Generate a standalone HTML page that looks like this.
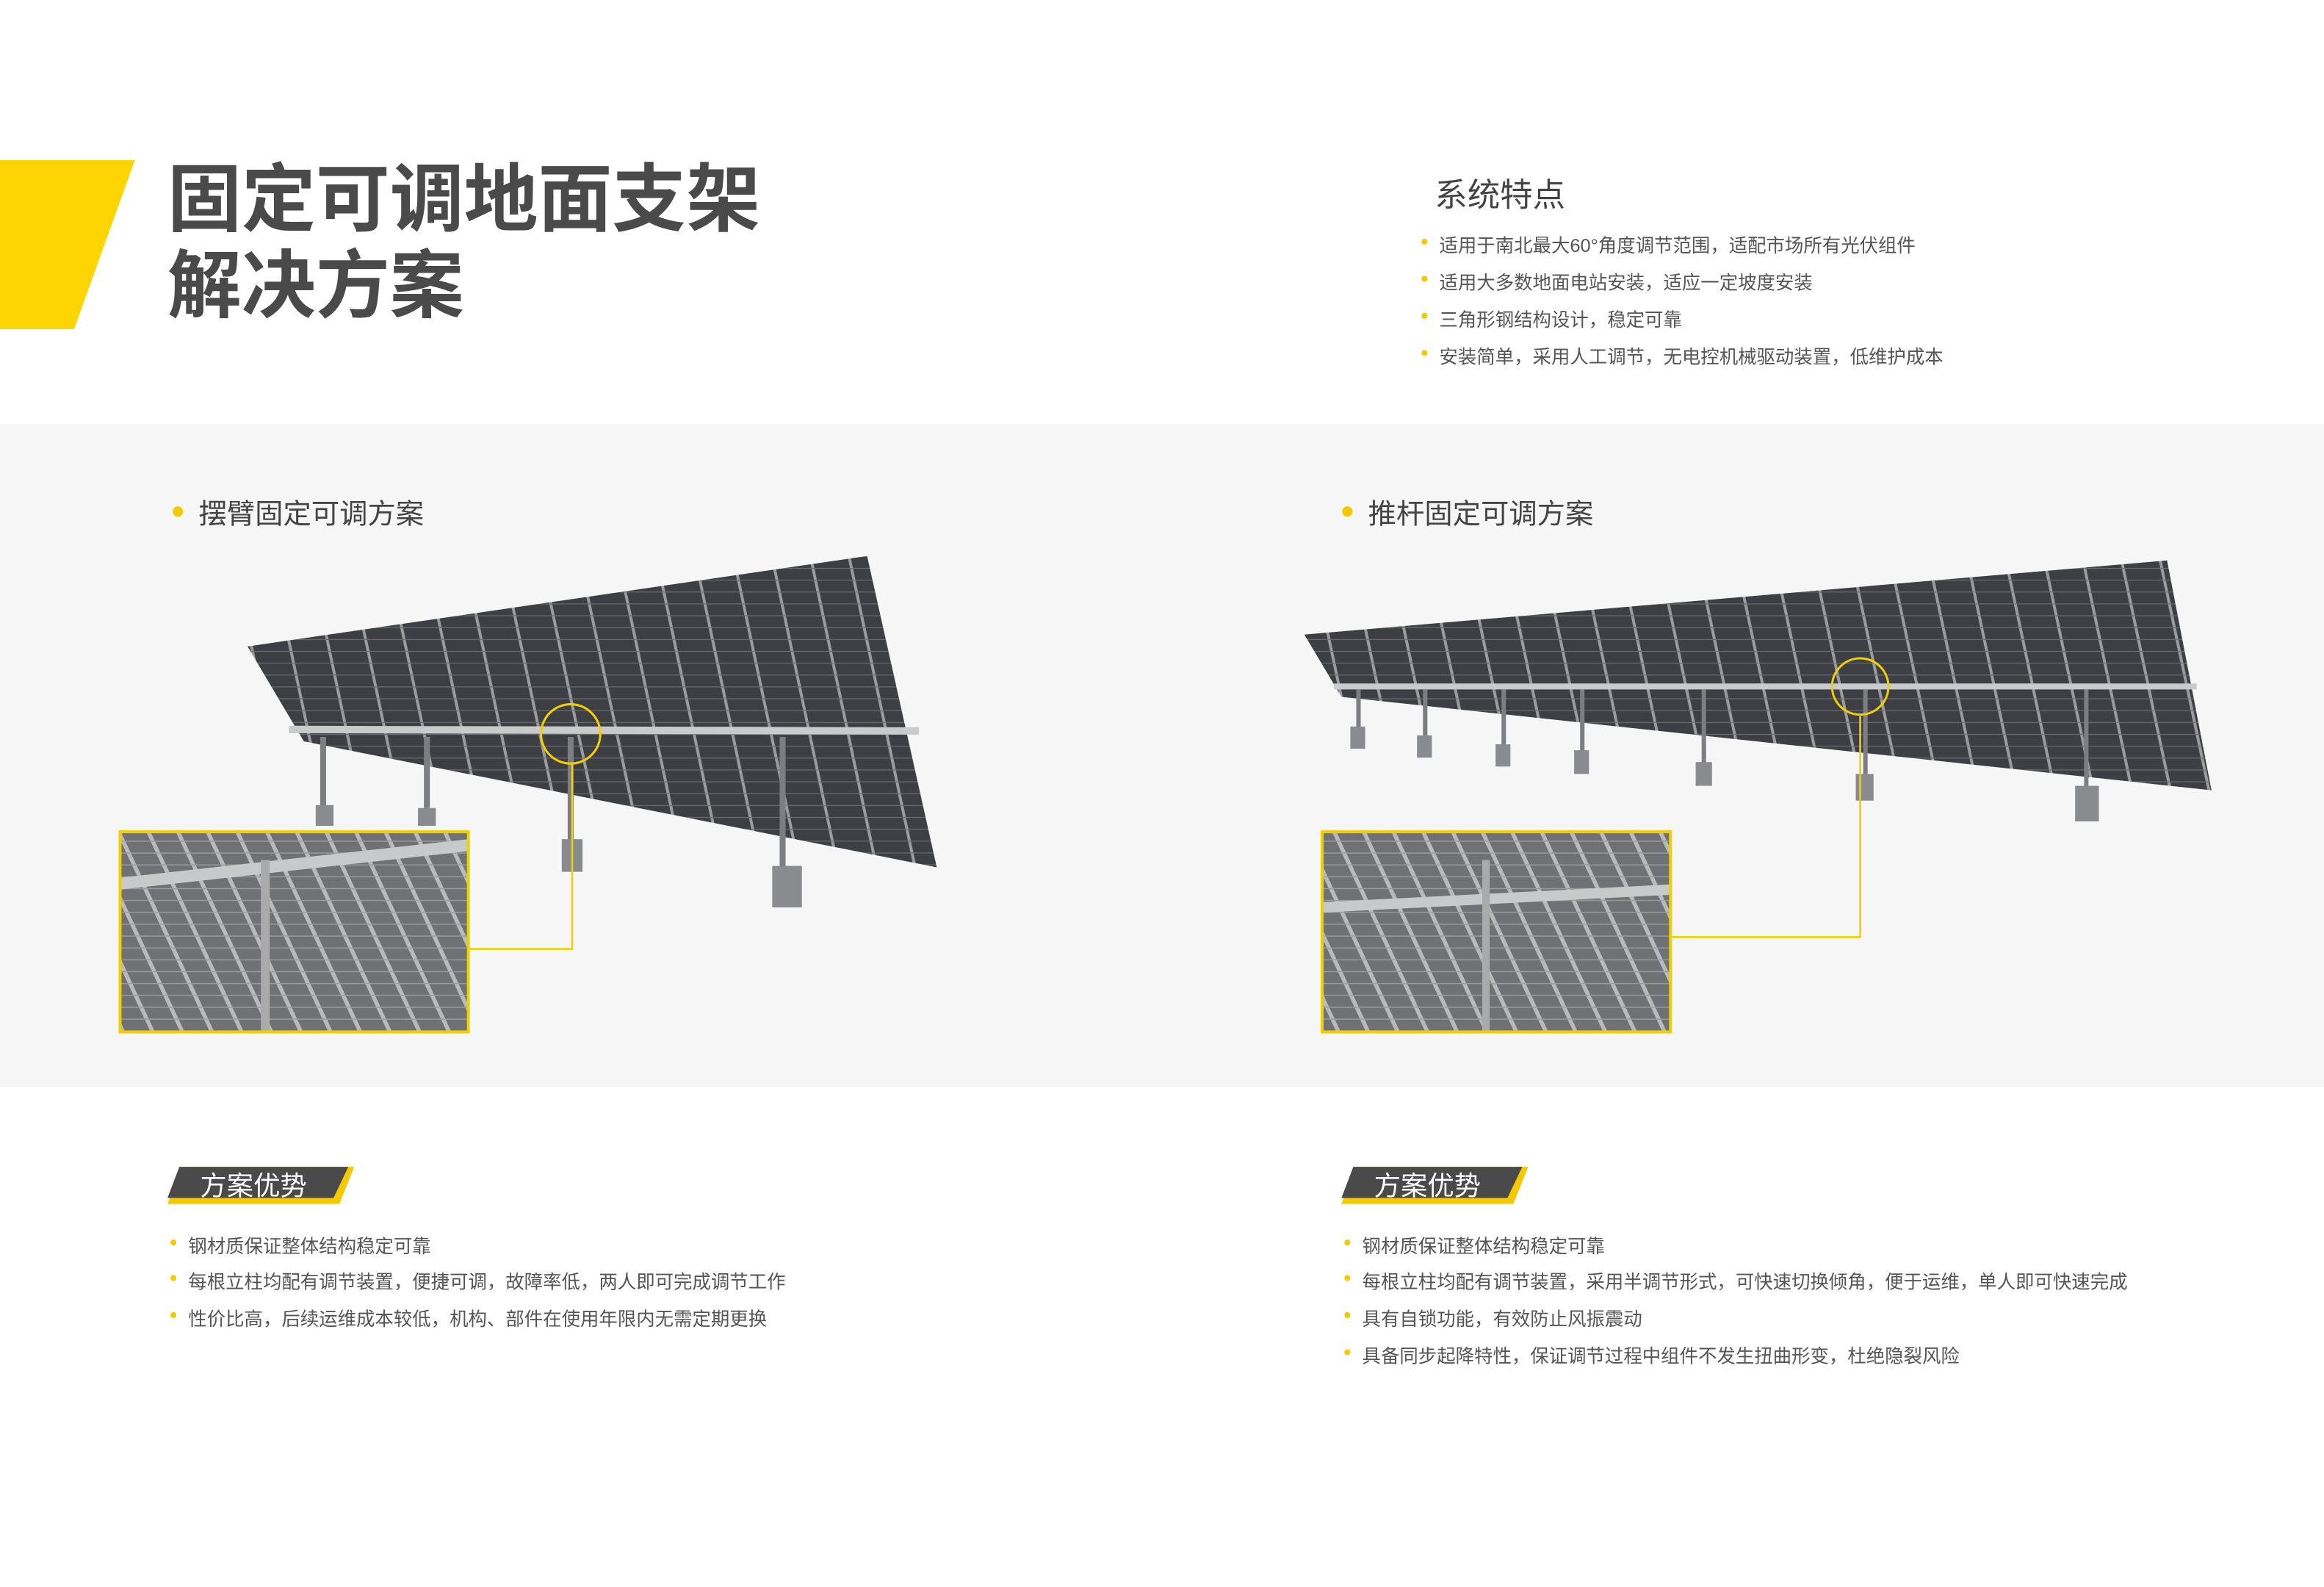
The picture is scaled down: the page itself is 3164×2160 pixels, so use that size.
<!DOCTYPE html>
<html><head><meta charset="utf-8"><style>
html,body{margin:0;padding:0;background:#fff;overflow:hidden}
#w{width:1582px;height:1080px;transform:scale(2.018);transform-origin:0 0;position:relative;overflow:hidden;font-family:"Liberation Sans","Noto Sans CJK SC",sans-serif}
.a{position:absolute;white-space:nowrap}
.li{position:absolute;font-size:12.6px;color:#555;white-space:nowrap}
.li:before{content:"";position:absolute;left:-12px;top:6px;width:4px;height:4px;border-radius:50%;background:#f5c800}
</style></head><body><div id="w">
<svg class="a" style="left:0;top:0" width="1582" height="1080">
<polygon points="0,108 91,108 50,222 0,222" fill="#FFD500"/>
<rect x="0" y="286" width="1582" height="447" fill="#f6f6f6"/>
<defs>
<pattern id="p" width="26" height="8" patternUnits="userSpaceOnUse" patternTransform="skewX(12)">
<rect width="26" height="8" fill="#3d3f44"/><rect x="24" width="2" height="8" fill="#9a9ca0"/><rect y="7" width="26" height="0.6" fill="#6a6c70"/></pattern>
<pattern id="z" width="20" height="8" patternUnits="userSpaceOnUse" patternTransform="skewX(25)">
<rect width="20" height="8" fill="#6f7175"/><rect x="17" width="3" height="8" fill="#b8babc"/><rect y="7" width="20" height="0.7" fill="#9a9ca0"/></pattern>
</defs>
<polygon points="167,436 585,375 632,585 205,500" fill="url(#p)"/>
<line x1="195" y1="492" x2="620" y2="493" stroke="#c9cacc" stroke-width="5"/>
<g fill="#7c7e82"><rect x="216" y="497" width="4" height="48"/><rect x="286" y="497" width="4" height="48"/><rect x="383" y="497" width="4" height="70"/><rect x="526" y="497" width="4" height="90"/></g>
<g fill="#8a8b8e"><rect x="213" y="543" width="12" height="14"/><rect x="282" y="545" width="12" height="12"/><rect x="379" y="566" width="14" height="22"/><rect x="521" y="584" width="20" height="28"/></g>
<rect x="81" y="561" width="235" height="135" fill="url(#z)"/>
<line x1="81" y1="596" x2="316" y2="570" stroke="#c8c9cb" stroke-width="8"/>
<rect x="176" y="580" width="6" height="116" fill="#aaa"/>
<rect x="81" y="561" width="235" height="135" fill="none" stroke="#f2cf00" stroke-width="2"/>
<polyline points="317,640 386,640 386,515" fill="none" stroke="#f2cf00" stroke-width="1.3"/>
<circle cx="385" cy="495" r="20" fill="none" stroke="#f2cf00" stroke-width="1.5"/>
<polygon points="880,428 1462,378 1492,533 905,470" fill="url(#p)"/>
<line x1="900" y1="463" x2="1482" y2="463" stroke="#c9cacc" stroke-width="4"/>
<g fill="#7c7e82"><rect x="915" y="465" width="3" height="28"/><rect x="960" y="465" width="3" height="35"/><rect x="1013" y="465" width="3" height="40"/><rect x="1066" y="465" width="3" height="45"/><rect x="1148" y="465" width="3" height="55"/><rect x="1257" y="465" width="3" height="62"/><rect x="1406" y="465" width="3" height="70"/></g>
<g fill="#8a8b8e"><rect x="911" y="490" width="10" height="15"/><rect x="956" y="496" width="10" height="15"/><rect x="1009" y="502" width="10" height="15"/><rect x="1062" y="506" width="10" height="16"/><rect x="1144" y="514" width="11" height="16"/><rect x="1252" y="522" width="12" height="18"/><rect x="1400" y="530" width="16" height="24"/></g>
<rect x="892" y="561" width="235" height="135" fill="url(#z)"/>
<line x1="892" y1="612" x2="1127" y2="600" stroke="#c8c9cb" stroke-width="7"/>
<rect x="1000" y="580" width="5" height="116" fill="#aaa"/>
<rect x="892" y="561" width="235" height="135" fill="none" stroke="#f2cf00" stroke-width="2"/>
<polyline points="1128,632 1255,632 1255,483" fill="none" stroke="#f2cf00" stroke-width="1.3"/>
<circle cx="1255" cy="463" r="19" fill="none" stroke="#f2cf00" stroke-width="1.5"/>
<polygon points="123,787 239,787 229,812 113,812" fill="#f5c800"/>
<polygon points="121,787 235,787 225,808 113,808" fill="#4a4a4a"/>
<polygon points="915,787 1031,787 1021,812 905,812" fill="#f5c800"/>
<polygon points="913,787 1027,787 1017,808 905,808" fill="#4a4a4a"/>
<circle cx="120" cy="345" r="3.5" fill="#f5c800"/><circle cx="909" cy="345" r="3.5" fill="#f5c800"/>
</svg>
<div class="a" style="left:113px;top:106px;font-size:50px;font-weight:bold;color:#4a4a4a;line-height:58px">固定可调地面支架<br>解决方案</div>
<div class="a" style="left:968px;top:114px;font-size:22px;color:#444">系统特点</div>
<div class="li" style="left:971px;top:155px">适用于南北最大60°角度调节范围，适配市场所有光伏组件</div>
<div class="li" style="left:971px;top:180px">适用大多数地面电站安装，适应一定坡度安装</div>
<div class="li" style="left:971px;top:205px">三角形钢结构设计，稳定可靠</div>
<div class="li" style="left:971px;top:230px">安装简单，采用人工调节，无电控机械驱动装置，低维护成本</div>
<div class="a" style="left:134px;top:332px;font-size:19px;color:#444">摆臂固定可调方案</div>
<div class="a" style="left:923px;top:332px;font-size:19px;color:#444">推杆固定可调方案</div>
<div class="a" style="left:135px;top:786px;font-size:18px;color:#fff">方案优势</div>
<div class="a" style="left:927px;top:786px;font-size:18px;color:#fff">方案优势</div>
<div class="li" style="left:127px;top:830px">钢材质保证整体结构稳定可靠</div>
<div class="li" style="left:127px;top:854px">每根立柱均配有调节装置，便捷可调，故障率低，两人即可完成调节工作</div>
<div class="li" style="left:127px;top:879px">性价比高，后续运维成本较低，机构、部件在使用年限内无需定期更换</div>
<div class="li" style="left:919px;top:830px">钢材质保证整体结构稳定可靠</div>
<div class="li" style="left:919px;top:854px">每根立柱均配有调节装置，采用半调节形式，可快速切换倾角，便于运维，单人即可快速完成</div>
<div class="li" style="left:919px;top:879px">具有自锁功能，有效防止风振震动</div>
<div class="li" style="left:919px;top:904px">具备同步起降特性，保证调节过程中组件不发生扭曲形变，杜绝隐裂风险</div>
</div></body></html>
